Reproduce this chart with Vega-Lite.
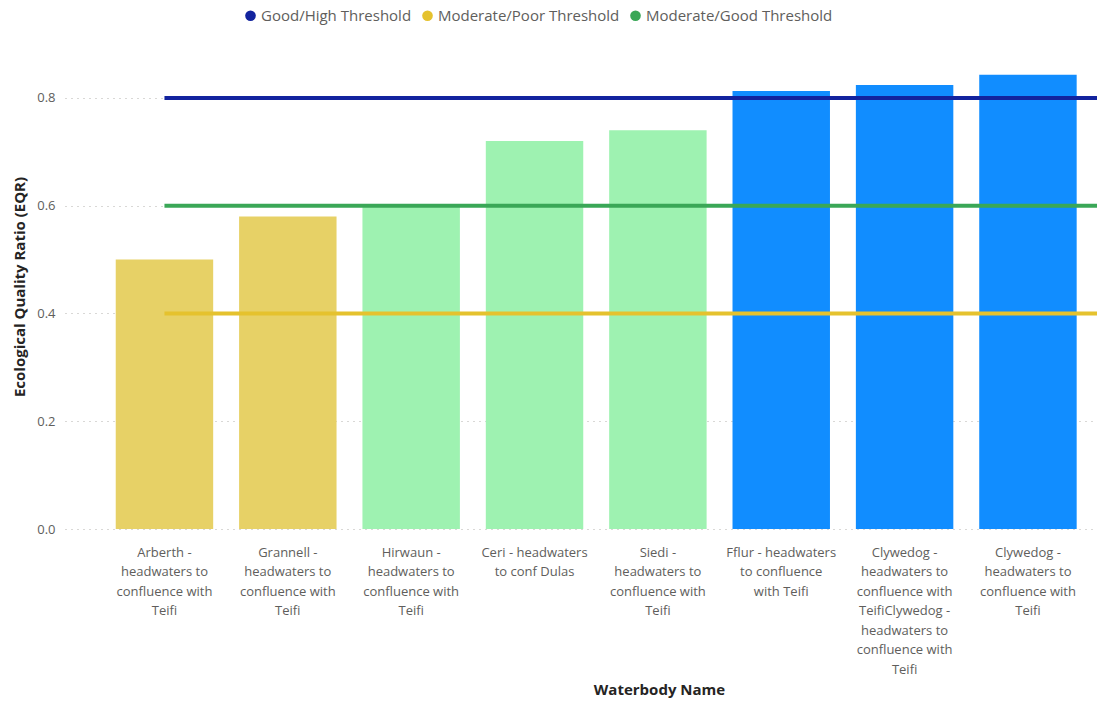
{
  "$schema": "https://vega.github.io/schema/vega-lite/v6.json",
  "width": 1032,
  "height": 485,
  "autosize": {"type": "none"},
  "padding": {"left": 65, "top": 44, "right": 0, "bottom": 172},
  "background": "white",
  "config": {
    "view": {"stroke": null},
    "font": "Open Sans",
    "axis": {"labelFont": "Open Sans", "titleFont": "Open Sans"},
    "legend": {"labelFont": "Open Sans"}
  },
  "datasets": {
    "bars": [
      {"name": "Arberth -\nheadwaters to\nconfluence with\nTeifi", "eqr": 0.50, "status": "Moderate"},
      {"name": "Grannell -\nheadwaters to\nconfluence with\nTeifi", "eqr": 0.58, "status": "Moderate"},
      {"name": "Hirwaun -\nheadwaters to\nconfluence with\nTeifi", "eqr": 0.60, "status": "Good"},
      {"name": "Ceri - headwaters\nto conf Dulas", "eqr": 0.72, "status": "Good"},
      {"name": "Siedi -\nheadwaters to\nconfluence with\nTeifi", "eqr": 0.74, "status": "Good"},
      {"name": "Fflur - headwaters\nto confluence\nwith Teifi", "eqr": 0.813, "status": "High"},
      {"name": "Clywedog -\nheadwaters to\nconfluence with\nTeifiClywedog -\nheadwaters to\nconfluence with\nTeifi", "eqr": 0.824, "status": "High"},
      {"name": "Clywedog -\nheadwaters to\nconfluence with\nTeifi", "eqr": 0.843, "status": "High"}
    ],
    "thresholds": [
      {"threshold": "Good/High Threshold", "value": 0.8},
      {"threshold": "Moderate/Poor Threshold", "value": 0.4},
      {"threshold": "Moderate/Good Threshold", "value": 0.6}
    ]
  },
  "layer": [
    {
      "data": {"name": "bars"},
      "mark": {"type": "bar"},
      "encoding": {
        "x": {
          "field": "name",
          "type": "nominal",
          "sort": null,
          "scale": {"paddingInner": 0.21, "paddingOuter": 0.288, "align": 0.714},
          "axis": {
            "title": "Waterbody Name",
            "labelAngle": 0,
            "labelExpr": "split(datum.value, '\\n')",
            "labelFontSize": 13,
            "labelColor": "#605E5C",
            "labelLineHeight": 19.5,
            "labelPadding": 17,
            "labelLimit": 0,
            "ticks": false,
            "domain": false,
            "titleFontSize": 15,
            "titleFontWeight": "bold",
            "titleColor": "#252423",
            "titlePadding": 6,
            "titleX": 594
          }
        },
        "y": {
          "field": "eqr",
          "type": "quantitative",
          "scale": {"domain": [0, 0.9], "nice": false},
          "axis": {
            "title": "Ecological Quality Ratio (EQR)",
            "values": [0, 0.2, 0.4, 0.6, 0.8],
            "format": ".1f",
            "labelFontSize": 13,
            "labelColor": "#605E5C",
            "labelPadding": 10,
            "ticks": false,
            "domain": false,
            "grid": true,
            "gridColor": "#B3B0AD",
            "gridDash": [1, 5],
            "gridWidth": 1,
            "titleFontSize": 15,
            "titleFontWeight": "bold",
            "titleColor": "#252423",
            "titlePadding": 9
          }
        },
        "fill": {
          "field": "status",
          "type": "nominal",
          "scale": {"domain": ["Moderate", "Good", "High"], "range": ["#E7D166", "#9EF2B1", "#118DFF"]},
          "legend": null
        }
      }
    },
    {
      "data": {"name": "thresholds"},
      "mark": {"type": "rule", "strokeWidth": 4},
      "encoding": {
        "x": {"datum": "Arberth -\nheadwaters to\nconfluence with\nTeifi", "type": "nominal", "bandPosition": 0.5},
        "x2": {"value": "width"},
        "y": {"field": "value", "type": "quantitative"},
        "color": {
          "field": "threshold",
          "type": "nominal",
          "sort": null,
          "scale": {
            "domain": ["Good/High Threshold", "Moderate/Poor Threshold", "Moderate/Good Threshold"],
            "range": ["#12239E", "#E5C22E", "#3AA757"]
          },
          "legend": {
            "title": null,
            "orient": "none",
            "direction": "horizontal",
            "legendX": 178,
            "legendY": -36,
            "symbolType": "circle",
            "symbolSize": 113,
            "symbolStrokeWidth": 0,
            "labelFontSize": 15,
            "labelLimit": 0,
            "labelColor": "#605E5C",
            "labelOffset": 3,
            "columnPadding": 8,
            "encode": {
              "symbols": {
                "update": {
                  "fill": {"scale": "color", "field": "value"},
                  "fillOpacity": {"value": 1},
                  "strokeWidth": {"value": 0}
                }
              }
            }
          }
        }
      }
    }
  ]
}
